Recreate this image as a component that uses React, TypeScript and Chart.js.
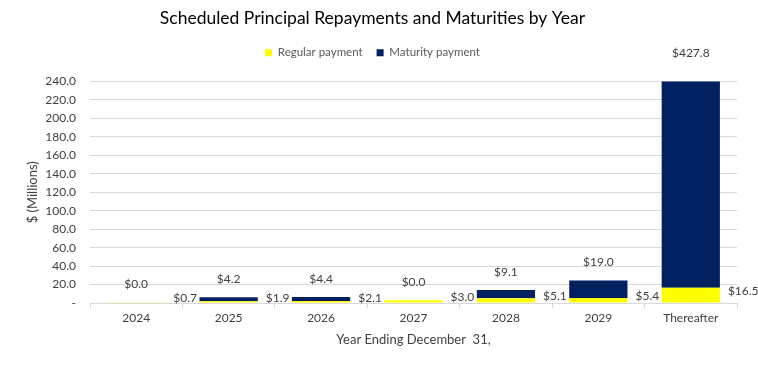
import React, { useEffect, useRef } from "react";
import { Chart, registerables } from "chart.js";

Chart.register(...registerables);

const categories = ["2024", "2025", "2026", "2027", "2028", "2029", "Thereafter"];
const regularPayment = [0.7, 1.9, 2.1, 3.0, 5.1, 5.4, 16.5];
const maturityPayment = [0.0, 4.2, 4.4, 0.0, 9.1, 19.0, 427.8];
const yMax = 240;
const yStep = 20;

const FONT = "Lato, 'Open Sans', sans-serif";
const YELLOW = "#FFFF00";
const NAVY = "#002060";

const fmt = (v: number) => "$" + v.toFixed(1);

const labelPlugin = {
  id: "valueLabels",
  afterDatasetsDraw(chart: any) {
    const ctx = chart.ctx;
    const area = chart.chartArea;
    const metaR = chart.getDatasetMeta(0);
    const metaM = chart.getDatasetMeta(1);
    const yScale = chart.scales.y;
    ctx.save();
    ctx.font = `12px ${FONT}`;
    ctx.fillStyle = "#404040";
    ctx.textBaseline = "middle";
    for (let i = 0; i < categories.length; i++) {
      const r = metaR.data[i].getProps(["x", "y", "base", "width"], true);
      // regular payment label to the right of the bar
      ctx.textAlign = "left";
      const ry = (Math.max(r.y, area.top) + r.base) / 2 - 4;
      ctx.fillText(fmt(regularPayment[i]), r.x + r.width / 2 + 8, ry);
      // maturity payment label above stack
      const total = regularPayment[i] + maturityPayment[i];
      let top = yScale.getPixelForValue(Math.min(total, yMax));
      if (total > yMax) top = area.top - 10;
      ctx.textAlign = "center";
      const m = metaM.data[i].getProps(["x"], true);
      ctx.fillText(fmt(maturityPayment[i]), m.x, top - 18);
    }
    ctx.restore();
  },
};

export default function App() {
  const ref = useRef<HTMLCanvasElement | null>(null);
  useEffect(() => {
    if (!ref.current) return;
    const chart = new Chart(ref.current, {
      type: "bar",
      data: {
        labels: categories,
        datasets: [
          {
            label: "Regular payment",
            data: regularPayment,
            backgroundColor: YELLOW,
            borderWidth: 0,
            barPercentage: 0.63,
            categoryPercentage: 1,
          },
          {
            label: "Maturity payment",
            data: maturityPayment,
            backgroundColor: NAVY,
            borderWidth: 0,
            barPercentage: 0.63,
            categoryPercentage: 1,
          },
        ],
      },
      options: {
        animation: false,
        responsive: true,
        maintainAspectRatio: false,
        layout: { padding: { left: 8, right: 21, top: 0, bottom: 0 } },
        plugins: {
          tooltip: { enabled: false },
          title: {
            display: true,
            text: "Scheduled Principal Repayments and Maturities by Year",
            color: "#000000",
            font: { family: FONT, size: 17.5, weight: "normal" },
            padding: { top: 8, bottom: 4 },
          },
          legend: {
            display: true,
            position: "top",
            weight: 1800,
            labels: {
              boxWidth: 7,
              boxHeight: 7,
              padding: 14,
              color: "#595959",
              font: { family: FONT, size: 11.5 },
            },
          },
          subtitle: {
            display: true,
            text: "",
            font: { size: 1, lineHeight: 1 },
            padding: { top: 0, bottom: 12 },
          },
        },
        scales: {
          x: {
            stacked: true,
            grid: {
              display: true,
              drawOnChartArea: false,
              drawTicks: true,
              tickLength: 5,
              color: "#d9d9d9",
            },
            border: { display: true, color: "#d9d9d9" },
            ticks: {
              color: "#404040",
              padding: 3,
              font: { family: FONT, size: 12 },
            },
            title: {
              display: true,
              text: "Year Ending December  31,",
              color: "#404040",
              font: { family: FONT, size: 13 },
              padding: { top: 0, bottom: 18 },
            },
            afterFit: (scale: any) => {
              scale.height = 63;
            },
          },
          y: {
            stacked: true,
            min: 0,
            max: yMax,
            grid: { color: "#d9d9d9", drawTicks: false },
            border: { display: false },
            ticks: {
              stepSize: yStep,
              color: "#404040",
              padding: 14,
              font: { family: FONT, size: 12 },
              callback: (v: any) => (Number(v) === 0 ? "-" : Number(v).toFixed(1)),
            },
            title: {
              display: true,
              text: "$ (Millions)",
              color: "#404040",
              font: { family: FONT, size: 13 },
              padding: { top: 17, bottom: 0 },
            },
            afterFit: (scale: any) => {
              scale.width = 82;
            },
          },
        },
      },
      plugins: [labelPlugin],
    });
    return () => chart.destroy();
  }, []);
  return (
    <div style={{ position: "absolute", left: 0, top: 0, width: 758, height: 366, background: "#fff" }}>
      <canvas ref={ref} />
    </div>
  );
}
